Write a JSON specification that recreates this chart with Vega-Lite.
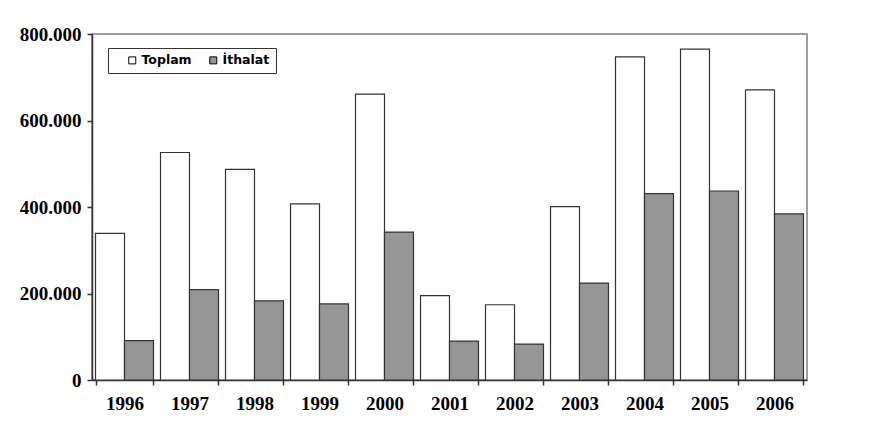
{
  "$schema": "https://vega.github.io/schema/vega-lite/v6.json",
  "width": 715,
  "height": 346,
  "autosize": "none",
  "padding": {"left": 92, "top": 34, "right": 68, "bottom": 54},
  "background": "white",
  "config": {
    "view": {"stroke": "#808080", "strokeWidth": 1.5},
    "axis": {
      "labelFont": "Liberation Serif",
      "labelFontWeight": "bold",
      "labelFontSize": 19,
      "labelColor": "black",
      "domainColor": "#333333",
      "tickColor": "#333333",
      "domainWidth": 1.5,
      "tickWidth": 1.5,
      "grid": false,
      "title": null
    }
  },
  "data": {
    "values": [
      {"year": "1996", "series": "Toplam", "value": 339000},
      {"year": "1996", "series": "İthalat", "value": 91000},
      {"year": "1997", "series": "Toplam", "value": 526000},
      {"year": "1997", "series": "İthalat", "value": 209000},
      {"year": "1998", "series": "Toplam", "value": 487000},
      {"year": "1998", "series": "İthalat", "value": 183000},
      {"year": "1999", "series": "Toplam", "value": 407000},
      {"year": "1999", "series": "İthalat", "value": 176000},
      {"year": "2000", "series": "Toplam", "value": 661000},
      {"year": "2000", "series": "İthalat", "value": 342000},
      {"year": "2001", "series": "Toplam", "value": 195000},
      {"year": "2001", "series": "İthalat", "value": 90000},
      {"year": "2002", "series": "Toplam", "value": 174000},
      {"year": "2002", "series": "İthalat", "value": 83000},
      {"year": "2003", "series": "Toplam", "value": 401000},
      {"year": "2003", "series": "İthalat", "value": 224000},
      {"year": "2004", "series": "Toplam", "value": 747000},
      {"year": "2004", "series": "İthalat", "value": 431000},
      {"year": "2005", "series": "Toplam", "value": 765000},
      {"year": "2005", "series": "İthalat", "value": 437000},
      {"year": "2006", "series": "Toplam", "value": 671000},
      {"year": "2006", "series": "İthalat", "value": 384000}
    ]
  },
  "mark": {"type": "bar", "stroke": "#333333", "strokeWidth": 1.2},
  "encoding": {
    "x": {
      "field": "year",
      "type": "nominal",
      "scale": {"paddingInner": 0.108, "paddingOuter": 0.054},
      "axis": {
        "labelAngle": 0,
        "tickBand": "extent",
        "tickSize": 5,
        "labelPadding": 9
      }
    },
    "xOffset": {
      "field": "series",
      "type": "nominal",
      "scale": {"domain": ["Toplam", "İthalat"], "paddingInner": 0, "paddingOuter": 0}
    },
    "y": {
      "field": "value",
      "type": "quantitative",
      "scale": {"domain": [0, 800000], "nice": false},
      "axis": {
        "values": [0, 200000, 400000, 600000, 800000],
        "tickSize": 5,
        "labelPadding": 6,
        "labelExpr": "replace(format(datum.value, ','), ',', '.')"
      }
    },
    "fill": {
      "field": "series",
      "type": "nominal",
      "scale": {"domain": ["Toplam", "İthalat"], "range": ["#ffffff", "#969696"]},
      "legend": {
        "orient": "none",
        "legendX": 16,
        "legendY": 14,
        "direction": "horizontal",
        "title": null,
        "strokeColor": "#333333",
        "padding": 6,
        "symbolType": "square",
        "symbolSize": 49,
        "symbolOffset": 12,
        "symbolStrokeColor": "black",
        "symbolStrokeWidth": 1,
        "labelFont": "DejaVu Sans",
        "labelFontWeight": "bold",
        "labelFontSize": 12.5,
        "labelColor": "black",
        "labelOffset": 3,
        "columnPadding": 3
      }
    }
  }
}
